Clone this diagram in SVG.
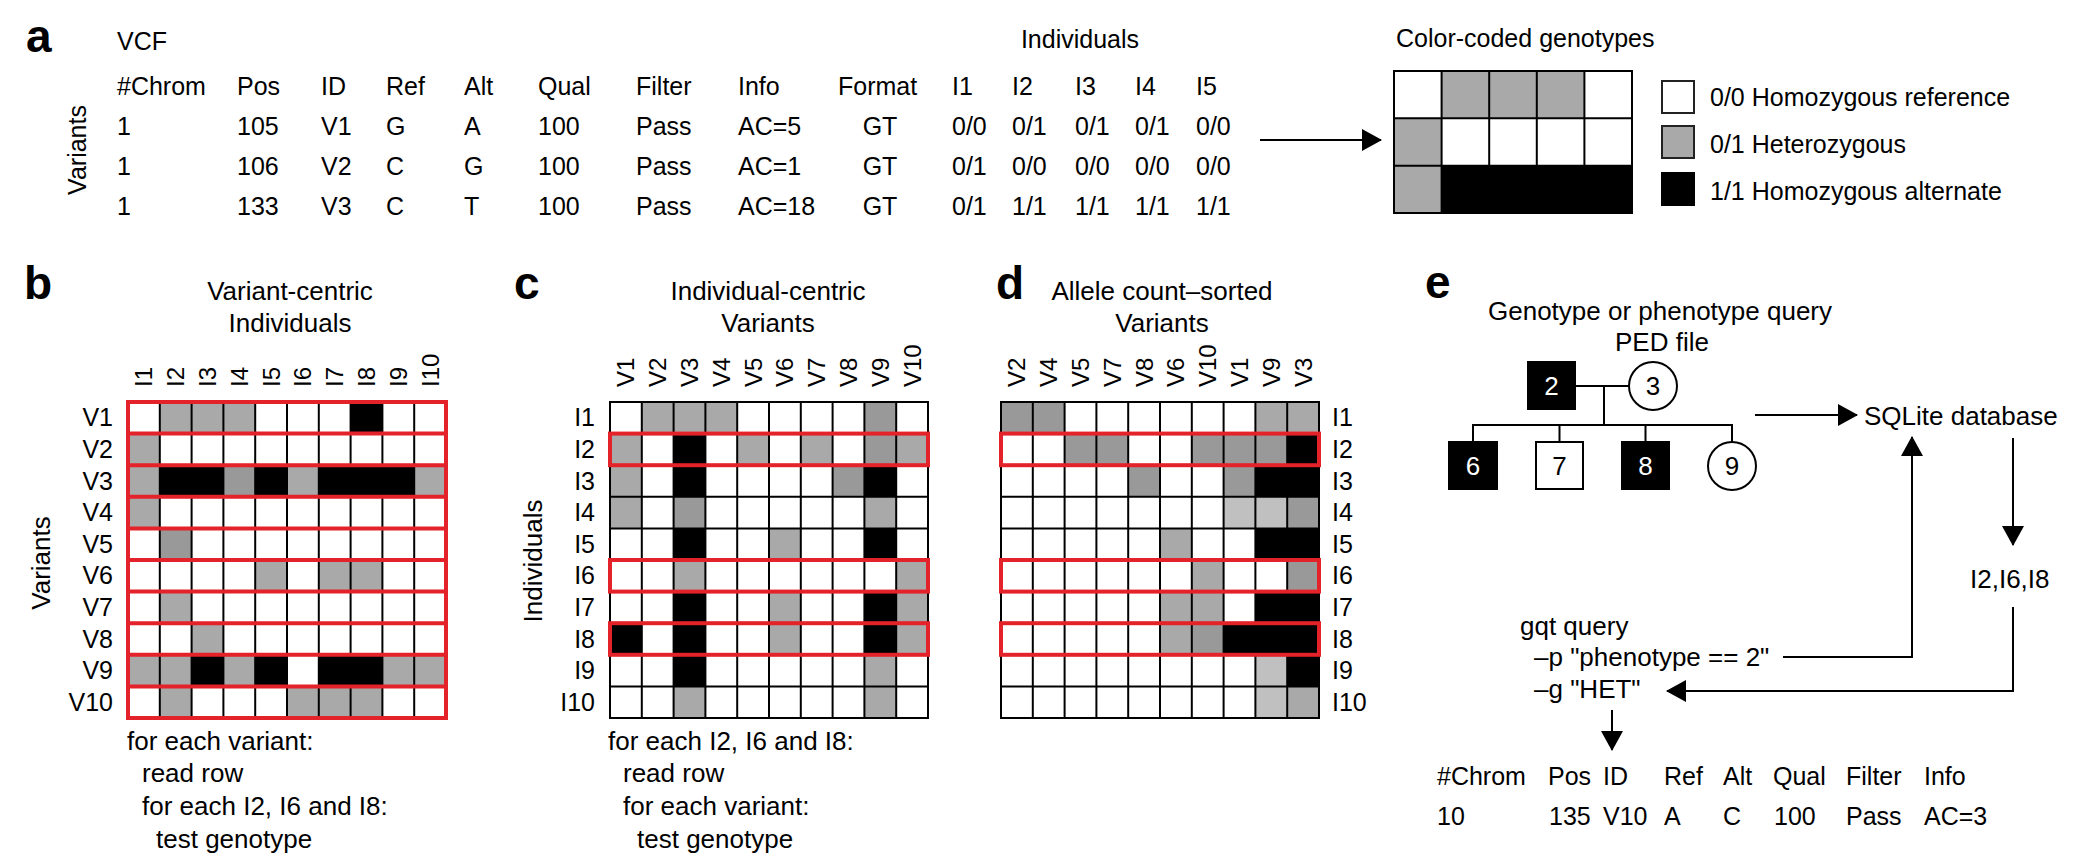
<svg xmlns="http://www.w3.org/2000/svg" width="2100" height="862" viewBox="0 0 2100 862">
<style>
text{font-family:"Liberation Sans",Arial,sans-serif;fill:#000}
.t{font-size:25px}
.s{font-size:26px}
.lab{font-size:46px;font-weight:bold}
.rl{font-size:25px}
.cl{font-size:24px}
.mid{text-anchor:middle}
.end{text-anchor:end}
.g{fill:#a9a9a9}
.gd{fill:#999999}
.gl{fill:#c0c0c0}
.b{fill:#000}
.grid{fill:none;stroke:#000;stroke-width:2}
.red{fill:none;stroke:#e42229;stroke-width:4}
.ln{fill:none;stroke:#000;stroke-width:2}
.arr{fill:none;stroke:#000;stroke-width:2;marker-end:url(#ah)}
.wt{fill:#fff}
</style>
<defs>
<marker id="ah" markerUnits="userSpaceOnUse" markerWidth="20" markerHeight="22" refX="19" refY="11" orient="auto">
<path d="M0,0 L20,11 L0,22 z" fill="#000"/>
</marker>
</defs>
<rect width="2100" height="862" fill="#fff"/>

<!-- Panel a -->
<g id="panel-a">
<text class="lab" x="26" y="52">a</text>
<text class="t" x="117" y="50">VCF</text>
<text class="t mid" x="1080" y="48">Individuals</text>
<text class="t mid" transform="translate(86,150) rotate(-90)">Variants</text>
<g id="vcf-header" class="t">
<text x="117" y="95">#Chrom</text><text x="237" y="95">Pos</text><text x="321" y="95">ID</text><text x="386" y="95">Ref</text><text x="464" y="95">Alt</text><text x="538" y="95">Qual</text><text x="636" y="95">Filter</text><text x="738" y="95">Info</text><text x="838" y="95">Format</text><text x="952" y="95">I1</text><text x="1012" y="95">I2</text><text x="1075" y="95">I3</text><text x="1135" y="95">I4</text><text x="1196" y="95">I5</text>
</g>
<g id="vcf-row1" class="t">
<text x="117" y="135">1</text><text x="237" y="135">105</text><text x="321" y="135">V1</text><text x="386" y="135">G</text><text x="464" y="135">A</text><text x="538" y="135">100</text><text x="636" y="135">Pass</text><text x="738" y="135">AC=5</text><text class="mid" x="880" y="135">GT</text><text x="952" y="135">0/0</text><text x="1012" y="135">0/1</text><text x="1075" y="135">0/1</text><text x="1135" y="135">0/1</text><text x="1196" y="135">0/0</text>
</g>
<g id="vcf-row2" class="t">
<text x="117" y="175">1</text><text x="237" y="175">106</text><text x="321" y="175">V2</text><text x="386" y="175">C</text><text x="464" y="175">G</text><text x="538" y="175">100</text><text x="636" y="175">Pass</text><text x="738" y="175">AC=1</text><text class="mid" x="880" y="175">GT</text><text x="952" y="175">0/1</text><text x="1012" y="175">0/0</text><text x="1075" y="175">0/0</text><text x="1135" y="175">0/0</text><text x="1196" y="175">0/0</text>
</g>
<g id="vcf-row3" class="t">
<text x="117" y="215">1</text><text x="237" y="215">133</text><text x="321" y="215">V3</text><text x="386" y="215">C</text><text x="464" y="215">T</text><text x="538" y="215">100</text><text x="636" y="215">Pass</text><text x="738" y="215">AC=18</text><text class="mid" x="880" y="215">GT</text><text x="952" y="215">0/1</text><text x="1012" y="215">1/1</text><text x="1075" y="215">1/1</text><text x="1135" y="215">1/1</text><text x="1196" y="215">1/1</text>
</g>
</g>

<g id="color-coded">
<text class="t" x="1396" y="47">Color-coded genotypes</text>
<rect x="1394" y="71" width="238" height="142" fill="#fff"/>
<rect class="g" x="1441.6" y="71" width="142.8" height="47.33"/>
<rect class="g" x="1394" y="118.33" width="47.6" height="94.67"/>
<rect class="b" x="1441.6" y="165.67" width="190.4" height="47.33"/>
<path class="grid" d="M1394,71H1632V213H1394Z M1394,118.33H1632 M1394,165.67H1632 M1441.6,71V213 M1489.2,71V213 M1536.8,71V213 M1584.4,71V213"/>
</g>
<g id="legend">
<rect x="1662" y="81" width="32" height="32" fill="#fff" stroke="#222" stroke-width="2"/>
<rect class="g" x="1662" y="126" width="32" height="32" stroke="#222" stroke-width="2"/>
<rect class="b" x="1662" y="173" width="32" height="32" stroke="#000" stroke-width="2"/>
<text class="t" x="1710" y="106">0/0 Homozygous reference</text>
<text class="t" x="1710" y="153">0/1 Heterozygous</text>
<text class="t" x="1710" y="200">1/1 Homozygous alternate</text>
</g>

<!-- Panel b -->
<g id="panel-b">
<text class="lab" x="24" y="299">b</text>
<text class="s mid" x="290" y="300">Variant-centric</text>
<text class="s mid" x="290" y="332">Individuals</text>
<text class="s mid" transform="translate(50,563) rotate(-90)">Variants</text>
<g class="cl">
<text transform="translate(152.4,387) rotate(-90)">I1</text>
<text transform="translate(184.2,387) rotate(-90)">I2</text>
<text transform="translate(216,387) rotate(-90)">I3</text>
<text transform="translate(247.8,387) rotate(-90)">I4</text>
<text transform="translate(279.6,387) rotate(-90)">I5</text>
<text transform="translate(311.4,387) rotate(-90)">I6</text>
<text transform="translate(343.2,387) rotate(-90)">I7</text>
<text transform="translate(375,387) rotate(-90)">I8</text>
<text transform="translate(406.8,387) rotate(-90)">I9</text>
<text transform="translate(438.6,387) rotate(-90)">I10</text>
</g>
<g class="rl end">
<text x="113" y="426.3">V1</text><text x="113" y="457.9">V2</text><text x="113" y="489.5">V3</text><text x="113" y="521.1">V4</text><text x="113" y="552.7">V5</text><text x="113" y="584.3">V6</text><text x="113" y="615.9">V7</text><text x="113" y="647.5">V8</text><text x="113" y="679.1">V9</text><text x="113" y="710.7">V10</text>
</g>
<rect x="128" y="402" width="318" height="316" fill="#fff"/>
<g id="b-cells">
<rect class="g" x="159.8" y="402" width="95.4" height="31.6"/>
<rect class="b" x="350.6" y="402" width="31.8" height="31.6"/>
<rect class="g" x="128" y="433.6" width="31.8" height="31.6"/>
<rect class="g" x="128" y="465.2" width="31.8" height="31.6"/>
<rect class="b" x="159.8" y="465.2" width="63.6" height="31.6"/>
<rect class="gd" x="223.4" y="465.2" width="31.8" height="31.6"/>
<rect class="b" x="255.2" y="465.2" width="31.8" height="31.6"/>
<rect class="g" x="287" y="465.2" width="31.8" height="31.6"/>
<rect class="b" x="318.8" y="465.2" width="95.4" height="31.6"/>
<rect class="g" x="414.2" y="465.2" width="31.8" height="31.6"/>
<rect class="g" x="128" y="496.8" width="31.8" height="31.6"/>
<rect class="gd" x="159.8" y="528.4" width="31.8" height="31.6"/>
<rect class="g" x="255.2" y="560" width="31.8" height="31.6"/>
<rect class="g" x="318.8" y="560" width="63.6" height="31.6"/>
<rect class="g" x="159.8" y="591.6" width="31.8" height="31.6"/>
<rect class="g" x="191.6" y="623.2" width="31.8" height="31.6"/>
<rect class="g" x="128" y="654.8" width="63.6" height="31.6"/>
<rect class="b" x="191.6" y="654.8" width="31.8" height="31.6"/>
<rect class="g" x="223.4" y="654.8" width="31.8" height="31.6"/>
<rect class="b" x="255.2" y="654.8" width="31.8" height="31.6"/>
<rect class="b" x="318.8" y="654.8" width="63.6" height="31.6"/>
<rect class="g" x="382.4" y="654.8" width="63.6" height="31.6"/>
<rect class="g" x="159.8" y="686.4" width="31.8" height="31.6"/>
<rect class="g" x="287" y="686.4" width="95.4" height="31.6"/>
</g>
<path class="grid" d="M159.8,402V718 M191.6,402V718 M223.4,402V718 M255.2,402V718 M287,402V718 M318.8,402V718 M350.6,402V718 M382.4,402V718 M414.2,402V718"/>
<path class="red" d="M128,402H446V718H128Z M128,433.6H446 M128,465.2H446 M128,496.8H446 M128,528.4H446 M128,560H446 M128,591.6H446 M128,623.2H446 M128,654.8H446 M128,686.4H446"/>
<g class="s">
<text x="127" y="750">for each variant:</text>
<text x="142" y="782">read row</text>
<text x="142" y="815">for each I2, I6 and I8:</text>
<text x="156" y="848">test genotype</text>
</g>
</g>

<!-- Panel c -->
<g id="panel-c">
<text class="lab" x="514" y="299">c</text>
<text class="s mid" x="768" y="300">Individual-centric</text>
<text class="s mid" x="768" y="332">Variants</text>
<text class="s mid" transform="translate(542,561) rotate(-90)">Individuals</text>
<g class="cl">
<text transform="translate(634.4,387) rotate(-90)">V1</text>
<text transform="translate(666.2,387) rotate(-90)">V2</text>
<text transform="translate(698,387) rotate(-90)">V3</text>
<text transform="translate(729.8,387) rotate(-90)">V4</text>
<text transform="translate(761.6,387) rotate(-90)">V5</text>
<text transform="translate(793.4,387) rotate(-90)">V6</text>
<text transform="translate(825.2,387) rotate(-90)">V7</text>
<text transform="translate(857,387) rotate(-90)">V8</text>
<text transform="translate(888.8,387) rotate(-90)">V9</text>
<text transform="translate(920.6,387) rotate(-90)">V10</text>
</g>
<g class="rl end">
<text x="595" y="426.3">I1</text><text x="595" y="457.9">I2</text><text x="595" y="489.5">I3</text><text x="595" y="521.1">I4</text><text x="595" y="552.7">I5</text><text x="595" y="584.3">I6</text><text x="595" y="615.9">I7</text><text x="595" y="647.5">I8</text><text x="595" y="679.1">I9</text><text x="595" y="710.7">I10</text>
</g>
<rect x="610" y="402" width="318" height="316" fill="#fff"/>
<g id="c-cells">
<rect class="g" x="641.8" y="402" width="95.4" height="31.6"/>
<rect class="gd" x="864.4" y="402" width="31.8" height="63.2"/>
<rect class="g" x="610" y="433.6" width="31.8" height="95"/>
<rect class="b" x="673.6" y="433.6" width="31.8" height="63.2"/>
<rect class="g" x="737.2" y="433.6" width="31.8" height="31.6"/>
<rect class="g" x="800.8" y="433.6" width="31.8" height="31.6"/>
<rect class="g" x="896.2" y="433.6" width="31.8" height="31.6"/>
<rect class="gd" x="832.6" y="465.2" width="31.8" height="31.6"/>
<rect class="b" x="864.4" y="465.2" width="31.8" height="31.6"/>
<rect class="gd" x="673.6" y="496.8" width="31.8" height="31.6"/>
<rect class="g" x="864.4" y="496.8" width="31.8" height="31.6"/>
<rect class="b" x="673.6" y="528.4" width="31.8" height="31.6"/>
<rect class="g" x="769" y="528.4" width="31.8" height="31.6"/>
<rect class="b" x="864.4" y="528.4" width="31.8" height="31.6"/>
<rect class="g" x="673.6" y="560" width="31.8" height="31.6"/>
<rect class="g" x="896.2" y="560" width="31.8" height="94.8"/>
<rect class="b" x="673.6" y="591.6" width="31.8" height="94.8"/>
<rect class="g" x="769" y="591.6" width="31.8" height="63.2"/>
<rect class="b" x="864.4" y="591.6" width="31.8" height="63.2"/>
<rect class="b" x="610" y="623.2" width="31.8" height="31.6"/>
<rect class="g" x="864.4" y="654.8" width="31.8" height="63.2"/>
<rect class="g" x="673.6" y="686.4" width="31.8" height="31.6"/>
</g>
<path class="grid" d="M610,402H928V718H610Z M641.8,402V718 M673.6,402V718 M705.4,402V718 M737.2,402V718 M769,402V718 M800.8,402V718 M832.6,402V718 M864.4,402V718 M896.2,402V718 M610,433.6H928 M610,465.2H928 M610,496.8H928 M610,528.4H928 M610,560H928 M610,591.6H928 M610,623.2H928 M610,654.8H928 M610,686.4H928"/>
<rect class="red" x="610" y="433.6" width="318" height="31.6"/>
<rect class="red" x="610" y="560" width="318" height="31.6"/>
<rect class="red" x="610" y="623.2" width="318" height="31.6"/>
<g class="s">
<text x="608" y="750">for each I2, I6 and I8:</text>
<text x="623" y="782">read row</text>
<text x="623" y="815">for each variant:</text>
<text x="637" y="848">test genotype</text>
</g>
</g>

<!-- Panel d -->
<g id="panel-d">
<text class="lab" x="996" y="299">d</text>
<text class="s mid" x="1162" y="300">Allele count–sorted</text>
<text class="s mid" x="1162" y="332">Variants</text>
<g class="cl">
<text transform="translate(1025.4,387) rotate(-90)">V2</text>
<text transform="translate(1057.2,387) rotate(-90)">V4</text>
<text transform="translate(1089,387) rotate(-90)">V5</text>
<text transform="translate(1120.8,387) rotate(-90)">V7</text>
<text transform="translate(1152.6,387) rotate(-90)">V8</text>
<text transform="translate(1184.4,387) rotate(-90)">V6</text>
<text transform="translate(1216.2,387) rotate(-90)">V10</text>
<text transform="translate(1248,387) rotate(-90)">V1</text>
<text transform="translate(1279.8,387) rotate(-90)">V9</text>
<text transform="translate(1311.6,387) rotate(-90)">V3</text>
</g>
<g class="rl">
<text x="1332" y="426.3">I1</text><text x="1332" y="457.9">I2</text><text x="1332" y="489.5">I3</text><text x="1332" y="521.1">I4</text><text x="1332" y="552.7">I5</text><text x="1332" y="584.3">I6</text><text x="1332" y="615.9">I7</text><text x="1332" y="647.5">I8</text><text x="1332" y="679.1">I9</text><text x="1332" y="710.7">I10</text>
</g>
<rect x="1001" y="402" width="318" height="316" fill="#fff"/>
<g id="d-cells">
<rect class="gd" x="1001" y="402" width="63.6" height="31.6"/>
<rect class="g" x="1255.4" y="402" width="63.6" height="31.6"/>
<rect class="gd" x="1064.6" y="433.6" width="63.6" height="31.6"/>
<rect class="gd" x="1191.8" y="433.6" width="95.4" height="31.6"/>
<rect class="b" x="1287.2" y="433.6" width="31.8" height="31.6"/>
<rect class="gd" x="1128.2" y="465.2" width="31.8" height="31.6"/>
<rect class="gd" x="1223.6" y="465.2" width="31.8" height="31.6"/>
<rect class="b" x="1255.4" y="465.2" width="63.6" height="31.6"/>
<rect class="gl" x="1223.6" y="496.8" width="63.6" height="31.6"/>
<rect class="gd" x="1287.2" y="496.8" width="31.8" height="31.6"/>
<rect class="g" x="1160" y="528.4" width="31.8" height="31.6"/>
<rect class="b" x="1255.4" y="528.4" width="63.6" height="31.6"/>
<rect class="g" x="1191.8" y="560" width="31.8" height="63.2"/>
<rect class="gd" x="1287.2" y="560" width="31.8" height="31.6"/>
<rect class="g" x="1160" y="591.6" width="31.8" height="63.2"/>
<rect class="b" x="1255.4" y="591.6" width="63.6" height="31.6"/>
<rect class="gd" x="1191.8" y="623.2" width="31.8" height="31.6"/>
<rect class="b" x="1223.6" y="623.2" width="95.4" height="31.6"/>
<rect class="gl" x="1255.4" y="654.8" width="31.8" height="63.2"/>
<rect class="b" x="1287.2" y="654.8" width="31.8" height="31.6"/>
<rect class="g" x="1287.2" y="686.4" width="31.8" height="31.6"/>
</g>
<path class="grid" d="M1001,402H1319V718H1001Z M1032.8,402V718 M1064.6,402V718 M1096.4,402V718 M1128.2,402V718 M1160,402V718 M1191.8,402V718 M1223.6,402V718 M1255.4,402V718 M1287.2,402V718 M1001,433.6H1319 M1001,465.2H1319 M1001,496.8H1319 M1001,528.4H1319 M1001,560H1319 M1001,591.6H1319 M1001,623.2H1319 M1001,654.8H1319 M1001,686.4H1319"/>
<rect class="red" x="1001" y="433.6" width="318" height="31.6"/>
<rect class="red" x="1001" y="560" width="318" height="31.6"/>
<rect class="red" x="1001" y="623.2" width="318" height="31.6"/>
</g>

<!-- Panel e -->
<g id="panel-e">
<text class="lab" x="1425" y="298">e</text>
<text class="s mid" x="1660" y="320">Genotype or phenotype query</text>
<text class="s mid" x="1662" y="351">PED file</text>
</g>
<g id="ped-2"><rect class="b" x="1527" y="361" width="49" height="49"/><text class="s mid wt" x="1551.5" y="395">2</text></g>
<g id="ped-3"><circle cx="1653" cy="386" r="24" fill="#fff" stroke="#000" stroke-width="2"/><text class="s mid" x="1653" y="395">3</text></g>
<g id="ped-6"><rect class="b" x="1448" y="441" width="50" height="49"/><text class="s mid wt" x="1473" y="475">6</text></g>
<g id="ped-7"><rect x="1536" y="442" width="47" height="47" fill="#fff" stroke="#000" stroke-width="2"/><text class="s mid" x="1559.5" y="475">7</text></g>
<g id="ped-8"><rect class="b" x="1621" y="441" width="49" height="49"/><text class="s mid wt" x="1645.5" y="475">8</text></g>
<g id="ped-9"><circle cx="1732" cy="466" r="24" fill="#fff" stroke="#000" stroke-width="2"/><text class="s mid" x="1732" y="475">9</text></g>
<g id="sqlite"><text class="s" x="1864" y="425">SQLite database</text></g>
<g id="samples"><text class="s" x="1970" y="588">I2,I6,I8</text></g>
<g id="gqt" class="s">
<text x="1520" y="635">gqt query</text>
<text x="1534" y="666">–p "phenotype == 2"</text>
<text x="1534" y="698">–g "HET"</text>
</g>
<g id="result" class="t">
<text x="1437" y="785">#Chrom</text><text x="1548" y="785">Pos</text><text x="1603" y="785">ID</text><text x="1664" y="785">Ref</text><text x="1723" y="785">Alt</text><text x="1773" y="785">Qual</text><text x="1846" y="785">Filter</text><text x="1924" y="785">Info</text>
<text x="1437" y="825">10</text><text x="1549" y="825">135</text><text x="1603" y="825">V10</text><text x="1664" y="825">A</text><text x="1723" y="825">C</text><text x="1774" y="825">100</text><text x="1846" y="825">Pass</text><text x="1924" y="825">AC=3</text>
</g>

<g id="connectors">
<path class="arr" d="M1260,140H1381"/>
<path class="ln" d="M1576,386H1629 M1604,386V425 M1473,425H1733 M1473,424V441 M1559.5,424V442 M1645.5,424V441 M1732,424V442"/>
<path class="arr" d="M1755,415H1857"/>
<path class="arr" d="M2013,438V545"/>
<path class="arr" d="M2013,607V691H1667"/>
<path class="arr" d="M1783,657H1912V437"/>
<path class="arr" d="M1612,710V750"/>
</g>
</svg>
